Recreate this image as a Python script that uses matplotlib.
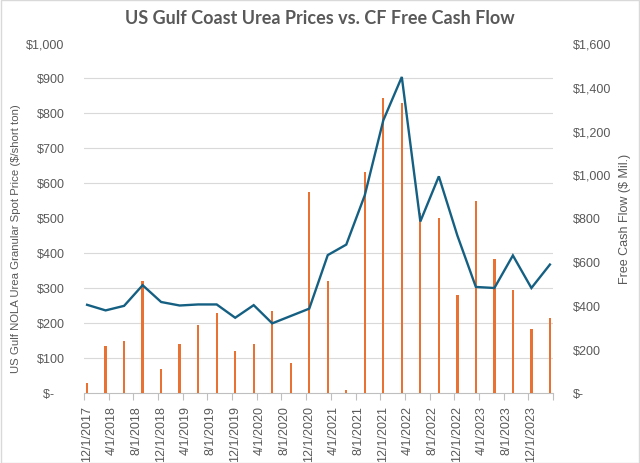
import matplotlib
matplotlib.use('Agg')
import matplotlib.pyplot as plt
import pandas as pd
from matplotlib.patches import Rectangle
from matplotlib.ticker import FuncFormatter, MultipleLocator, FixedLocator

# quarterly data points
dates = ['12/1/2017', '3/1/2018', '6/1/2018', '9/1/2018', '12/1/2018', '3/1/2019',
         '6/1/2019', '9/1/2019', '12/1/2019', '3/1/2020', '6/1/2020', '9/1/2020',
         '12/1/2020', '3/1/2021', '6/1/2021', '9/1/2021', '12/1/2021', '3/1/2022',
         '6/1/2022', '9/1/2022', '12/1/2022', '3/1/2023', '6/1/2023', '9/1/2023',
         '12/1/2023', '3/1/2024']
urea_price = [252, 236, 249, 308, 260, 250, 253, 253, 215, 251, 199, 220, 241,
              394, 424, 565, 779, 903, 490, 619, 450, 303, 300, 393, 300, 367]
free_cash_flow = [46, 213, 238, 510, 110, 225, 312, 367, 194, 225, 373, 136, 920,
                  510, 15, 1010, 1350, 1325, 825, 800, 450, 880, 613, 470, 292, 345]

# axis labels every 4 months
tick_dates = ['12/1/2017', '4/1/2018', '8/1/2018', '12/1/2018', '4/1/2019', '8/1/2019',
              '12/1/2019', '4/1/2020', '8/1/2020', '12/1/2020', '4/1/2021', '8/1/2021',
              '12/1/2021', '4/1/2022', '8/1/2022', '12/1/2022', '4/1/2023', '8/1/2023',
              '12/1/2023']


def month_index(strs):
    d = pd.to_datetime(strs, format='%m/%d/%Y')
    return list((d.year - 2017) * 12 + d.month - 12)


x = month_index(dates)
xt = month_index(tick_dates)

gray = '#595959'
plt.rcParams['font.family'] = ['Liberation Sans', 'DejaVu Sans']

fig = plt.figure(figsize=(6.4, 4.64), dpi=100)
ax2 = fig.add_axes([84 / 640, 1 - 394 / 464, 469 / 640, 350 / 464])
ax1 = ax2.twinx()
# line axis (left scale) on top, bars (right scale) underneath
ax1.yaxis.tick_left()
ax1.yaxis.set_label_position('left')
ax2.yaxis.tick_right()
ax2.yaxis.set_label_position('right')
ax1.set_zorder(ax2.get_zorder() + 1)
ax1.patch.set_visible(False)

ax2.bar(x, free_cash_flow, width=0.38, color='#E97132', clip_on=False, zorder=3)
ax1.plot(x, urea_price, color='#156082', lw=1.7, solid_joinstyle='miter', zorder=4)

ax1.set_ylim(0, 1000)
ax2.set_ylim(0, 1600)
ax1.set_xlim(-0.5, 75.5)

ax1.yaxis.set_major_locator(MultipleLocator(100))
ax2.yaxis.set_major_locator(MultipleLocator(200))
# gridlines match left scale but sit behind the bars
ax2.yaxis.set_minor_locator(MultipleLocator(160))
ax2.grid(axis='y', which='minor', color='#D9D9D9', lw=0.8, zorder=0)
ax2.set_axisbelow(True)


def left_fmt(v, pos):
    return '$-   ' if v == 0 else '${:,.0f}'.format(v)


def right_fmt(v, pos):
    return '$-' if v == 0 else '${:,.0f}'.format(v)


ax1.yaxis.set_major_formatter(FuncFormatter(left_fmt))
ax2.yaxis.set_major_formatter(FuncFormatter(right_fmt))

ax1.tick_params(axis='y', length=0, pad=14, labelsize=9, labelcolor=gray)
ax2.tick_params(axis='y', which='both', length=0, pad=14, labelsize=9, labelcolor=gray)

# x axis: tick marks on slot boundaries, labels at slot centres
ax2.xaxis.set_major_locator(FixedLocator([v - 0.5 for v in xt] + [75.5]))
ax2.xaxis.set_minor_locator(FixedLocator(xt))
ax2.xaxis.set_major_formatter(FuncFormatter(lambda v, p: ''))
ax2.set_xticks(xt, tick_dates, minor=True, rotation=90)
ax2.tick_params(axis='x', which='major', length=5, color='#BFBFBF', width=0.8)
ax2.tick_params(axis='x', which='minor', length=0, pad=9, labelsize=9, labelcolor=gray)
ax1.tick_params(axis='x', bottom=False, labelbottom=False)

for a in (ax1, ax2):
    for s in a.spines.values():
        s.set_visible(False)
ax2.spines['bottom'].set_visible(True)
ax2.spines['bottom'].set_color('#BFBFBF')
ax2.spines['bottom'].set_linewidth(0.8)

ax1.set_ylabel('US Gulf NOLA Urea Granular Spot Price ($/short ton)', fontsize=8.2, color=gray)
ax1.yaxis.set_label_coords((21 - 84) / 469, (394 - 239) / 350)
ax2.set_ylabel('Free Cash Flow ($ Mil.)', fontsize=9, color=gray, rotation=90)
ax2.yaxis.set_label_coords((619 - 84) / 469, (394 - 219) / 350)

fig.text(0.5, 1 - 18 / 464, 'US Gulf Coast Urea Prices vs. CF Free Cash Flow',
         ha='center', va='center', fontsize=13, fontweight='bold', color=gray,
         family=['Lato', 'DejaVu Sans'])

fig.patches.append(Rectangle((0.001, 0.001), 0.997, 0.997, transform=fig.transFigure,
                             fill=False, edgecolor='#D9D9D9', lw=1))

fig.savefig('out.png', dpi=100)
